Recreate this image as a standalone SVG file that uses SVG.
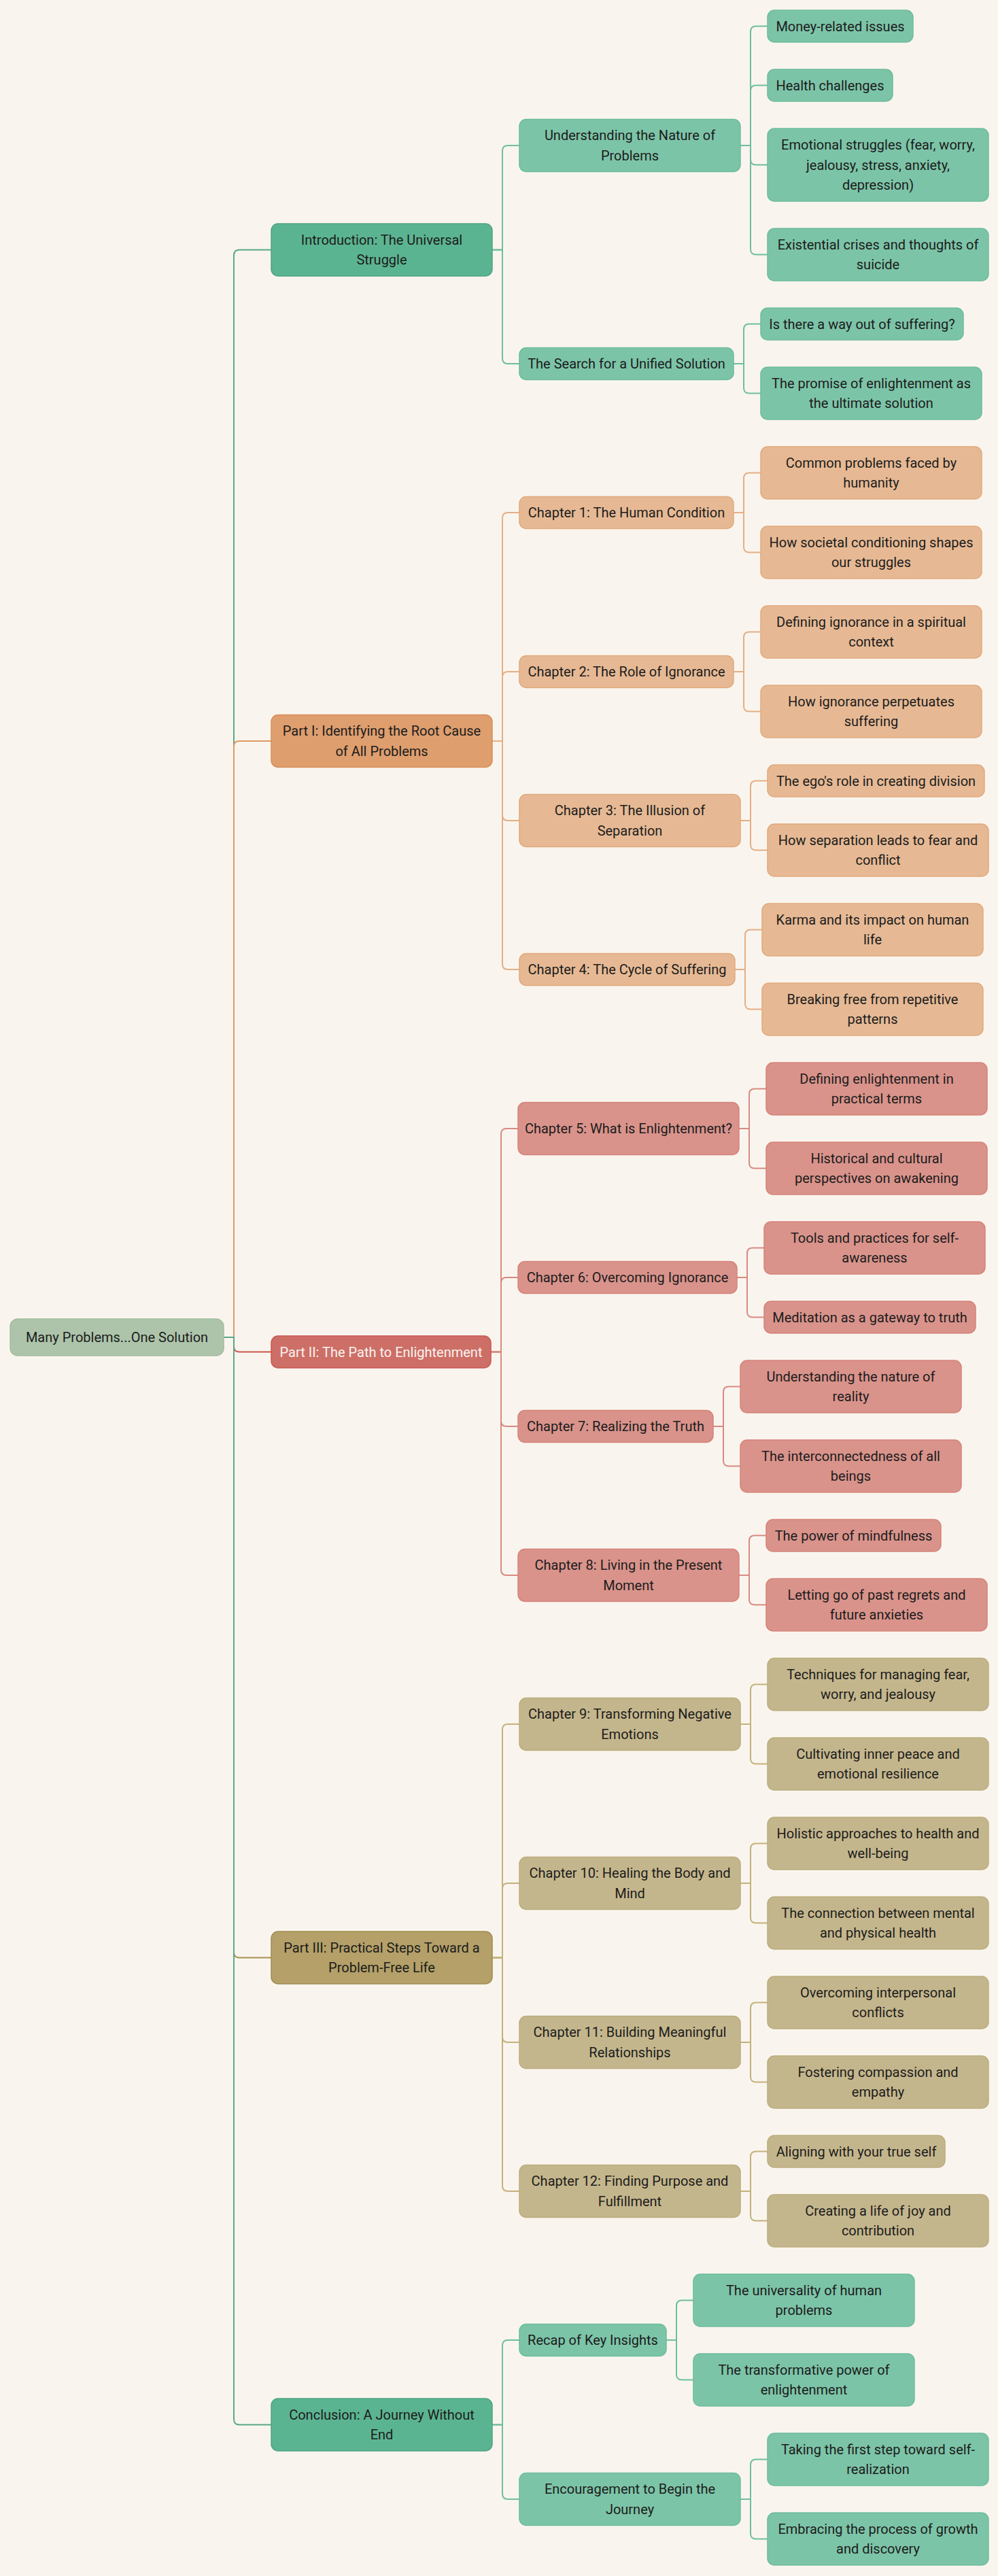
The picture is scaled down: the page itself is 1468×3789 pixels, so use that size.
<svg xmlns="http://www.w3.org/2000/svg" width="1468" height="3789" viewBox="0 0 1468 3789">
<style>
text{font-family:Roboto,"Liberation Sans",sans-serif;font-size:20px;fill:#1c1c1c;text-anchor:middle}
.n rect{stroke-width:1.5}
.root rect{fill:#adc4aa;stroke:#a3bd9f}
.g1 rect{fill:#5bb491;stroke:#4fa383}
.g2 rect{fill:#7cc4a8;stroke:#6dbc9c}
.o1 rect{fill:#de9e6e;stroke:#d98e58}
.o2 rect{fill:#e6b994;stroke:#e2a97c}
.r1 rect{fill:#cd6f67;stroke:#c65a52}
.r1 text{fill:#fbf3f0}
.r2 rect{fill:#d9938b;stroke:#d6827a}
.y1 rect{fill:#b4a068;stroke:#a08c50}
.y2 rect{fill:#c4b68c;stroke:#bcad7e}
.c path{fill:none;stroke-width:2}
.cg1{stroke:#5aa886}.cg2{stroke:#6fbe9e}
.co1{stroke:#df9a63}.co2{stroke:#e5ae85}
.cr1{stroke:#c9564e}.cr2{stroke:#d98a82}
.cy1{stroke:#a8924f}.cy2{stroke:#c4b17c}
</style>
<rect x="0" y="0" width="1468" height="3789" fill="#f9f5ee"/>
<g id="connectors" class="c">
<path class="cg1" d="M329 1967H344V375.5Q344 367.5 352 367.5H399"/>
<path class="co1" d="M329 1967H344V1098Q344 1090 352 1090H399"/>
<path class="cr1" d="M329 1967H344V1980.5Q344 1988.5 352 1988.5H399"/>
<path class="cy1" d="M329 1967H344V2871.5Q344 2879.5 352 2879.5H399"/>
<path class="cg1" d="M329 1967H344V3558.5Q344 3566.5 352 3566.5H399"/>
<path class="cg2" d="M724 367.5H739V222Q739 214 747 214H764"/>
<path class="cg2" d="M724 367.5H739V527Q739 535 747 535H764"/>
<path class="co2" d="M724 1090H739V762Q739 754 747 754H764"/>
<path class="co2" d="M724 1090H739V996Q739 988 747 988H764"/>
<path class="co2" d="M724 1090H739V1199Q739 1207 747 1207H764"/>
<path class="co2" d="M724 1090H739V1418Q739 1426 747 1426H764"/>
<path class="cr2" d="M722 1988.5H737V1668Q737 1660 745 1660H762"/>
<path class="cr2" d="M722 1988.5H737V1887Q737 1879 745 1879H762"/>
<path class="cr2" d="M722 1988.5H737V2090Q737 2098 745 2098H762"/>
<path class="cr2" d="M722 1988.5H737V2309Q737 2317 745 2317H762"/>
<path class="cy2" d="M724 2879.5H739V2544Q739 2536 747 2536H764"/>
<path class="cy2" d="M724 2879.5H739V2778Q739 2770 747 2770H764"/>
<path class="cy2" d="M724 2879.5H739V2996Q739 3004 747 3004H764"/>
<path class="cy2" d="M724 2879.5H739V3215Q739 3223 747 3223H764"/>
<path class="cg2" d="M724 3566.5H739V3450Q739 3442 747 3442H764"/>
<path class="cg2" d="M724 3566.5H739V3668Q739 3676 747 3676H764"/>
<path class="cg2" d="M1089 214H1104V46.5Q1104 38.5 1112 38.5H1129"/>
<path class="cg2" d="M1089 214H1104V133.5Q1104 125.5 1112 125.5H1129"/>
<path class="cg2" d="M1089 214H1104V234.5Q1104 242.5 1112 242.5H1129"/>
<path class="cg2" d="M1089 214H1104V366.5Q1104 374.5 1112 374.5H1129"/>
<path class="cg2" d="M1079 535H1094V484.5Q1094 476.5 1102 476.5H1119"/>
<path class="cg2" d="M1079 535H1094V570.5Q1094 578.5 1102 578.5H1119"/>
<path class="co2" d="M1079 754H1094V703.5Q1094 695.5 1102 695.5H1119"/>
<path class="co2" d="M1079 754H1094V804.5Q1094 812.5 1102 812.5H1119"/>
<path class="co2" d="M1079 988H1094V937.5Q1094 929.5 1102 929.5H1119"/>
<path class="co2" d="M1079 988H1094V1038.5Q1094 1046.5 1102 1046.5H1119"/>
<path class="co2" d="M1089 1207H1104V1156.5Q1104 1148.5 1112 1148.5H1129"/>
<path class="co2" d="M1089 1207H1104V1242.5Q1104 1250.5 1112 1250.5H1129"/>
<path class="co2" d="M1081 1426H1096V1375.5Q1096 1367.5 1104 1367.5H1121"/>
<path class="co2" d="M1081 1426H1096V1476.5Q1096 1484.5 1104 1484.5H1121"/>
<path class="cr2" d="M1087 1660H1102V1609.5Q1102 1601.5 1110 1601.5H1127"/>
<path class="cr2" d="M1087 1660H1102V1710.5Q1102 1718.5 1110 1718.5H1127"/>
<path class="cr2" d="M1084 1879H1099V1843.5Q1099 1835.5 1107 1835.5H1124"/>
<path class="cr2" d="M1084 1879H1099V1929.5Q1099 1937.5 1107 1937.5H1124"/>
<path class="cr2" d="M1049 2098H1064V2047.5Q1064 2039.5 1072 2039.5H1089"/>
<path class="cr2" d="M1049 2098H1064V2148.5Q1064 2156.5 1072 2156.5H1089"/>
<path class="cr2" d="M1087 2317H1102V2266.5Q1102 2258.5 1110 2258.5H1127"/>
<path class="cr2" d="M1087 2317H1102V2352.5Q1102 2360.5 1110 2360.5H1127"/>
<path class="cy2" d="M1089 2536H1104V2485.5Q1104 2477.5 1112 2477.5H1129"/>
<path class="cy2" d="M1089 2536H1104V2586.5Q1104 2594.5 1112 2594.5H1129"/>
<path class="cy2" d="M1089 2770H1104V2719.5Q1104 2711.5 1112 2711.5H1129"/>
<path class="cy2" d="M1089 2770H1104V2820.5Q1104 2828.5 1112 2828.5H1129"/>
<path class="cy2" d="M1089 3004H1104V2953.5Q1104 2945.5 1112 2945.5H1129"/>
<path class="cy2" d="M1089 3004H1104V3054.5Q1104 3062.5 1112 3062.5H1129"/>
<path class="cy2" d="M1089 3223H1104V3172.5Q1104 3164.5 1112 3164.5H1129"/>
<path class="cy2" d="M1089 3223H1104V3258.5Q1104 3266.5 1112 3266.5H1129"/>
<path class="cg2" d="M980 3442H995V3391.5Q995 3383.5 1003 3383.5H1020"/>
<path class="cg2" d="M980 3442H995V3492.5Q995 3500.5 1003 3500.5H1020"/>
<path class="cg2" d="M1089 3676H1104V3625.5Q1104 3617.5 1112 3617.5H1129"/>
<path class="cg2" d="M1089 3676H1104V3726.5Q1104 3734.5 1112 3734.5H1129"/>
</g>
<g id="root" class="n root"><rect x="15" y="1940" width="314" height="54" rx="11"/><text x="172" y="1974">Many Problems...One Solution</text></g>
<g id="intro" class="n g1"><rect x="399" y="329" width="325" height="77" rx="10"/><text x="561.5" y="359.75">Introduction: The Universal<tspan x="561.5" y="389.25">Struggle</tspan></text></g>
<g id="part1" class="n o1"><rect x="399" y="1051.5" width="325" height="77" rx="10"/><text x="561.5" y="1082.25">Part I: Identifying the Root Cause<tspan x="561.5" y="1111.75">of All Problems</tspan></text></g>
<g id="part2" class="n r1"><rect x="399" y="1965" width="323" height="47" rx="10"/><text x="560.5" y="1995.5">Part II: The Path to Enlightenment</text></g>
<g id="part3" class="n y1"><rect x="399" y="2841" width="325" height="77" rx="10"/><text x="561.5" y="2871.75">Part III: Practical Steps Toward a<tspan x="561.5" y="2901.25">Problem-Free Life</tspan></text></g>
<g id="conclusion" class="n g1"><rect x="399" y="3528" width="325" height="77" rx="10"/><text x="561.5" y="3558.75">Conclusion: A Journey Without<tspan x="561.5" y="3588.25">End</tspan></text></g>
<g id="understanding" class="n g2"><rect x="764" y="175.5" width="325" height="77" rx="10"/><text x="926.5" y="206.25">Understanding the Nature of<tspan x="926.5" y="235.75">Problems</tspan></text></g>
<g id="search" class="n g2"><rect x="764" y="511.5" width="315" height="47" rx="10"/><text x="921.5" y="542">The Search for a Unified Solution</text></g>
<g id="ch1" class="n o2"><rect x="764" y="730.5" width="315" height="47" rx="10"/><text x="921.5" y="761">Chapter 1: The Human Condition</text></g>
<g id="ch2" class="n o2"><rect x="764" y="964.5" width="315" height="47" rx="10"/><text x="921.5" y="995">Chapter 2: The Role of Ignorance</text></g>
<g id="ch3" class="n o2"><rect x="764" y="1168.5" width="325" height="77" rx="10"/><text x="926.5" y="1199.25">Chapter 3: The Illusion of<tspan x="926.5" y="1228.75">Separation</tspan></text></g>
<g id="ch4" class="n o2"><rect x="764" y="1402.5" width="317" height="47" rx="10"/><text x="922.5" y="1433">Chapter 4: The Cycle of Suffering</text></g>
<g id="ch5" class="n r2"><rect x="762" y="1621.5" width="325" height="77" rx="10"/><text x="924.5" y="1667">Chapter 5: What is Enlightenment?</text></g>
<g id="ch6" class="n r2"><rect x="762" y="1855.5" width="322" height="47" rx="10"/><text x="923" y="1886">Chapter 6: Overcoming Ignorance</text></g>
<g id="ch7" class="n r2"><rect x="762" y="2074.5" width="287" height="47" rx="10"/><text x="905.5" y="2105">Chapter 7: Realizing the Truth</text></g>
<g id="ch8" class="n r2"><rect x="762" y="2278.5" width="325" height="77" rx="10"/><text x="924.5" y="2309.25">Chapter 8: Living in the Present<tspan x="924.5" y="2338.75">Moment</tspan></text></g>
<g id="ch9" class="n y2"><rect x="764" y="2497.5" width="325" height="77" rx="10"/><text x="926.5" y="2528.25">Chapter 9: Transforming Negative<tspan x="926.5" y="2557.75">Emotions</tspan></text></g>
<g id="ch10" class="n y2"><rect x="764" y="2731.5" width="325" height="77" rx="10"/><text x="926.5" y="2762.25">Chapter 10: Healing the Body and<tspan x="926.5" y="2791.75">Mind</tspan></text></g>
<g id="ch11" class="n y2"><rect x="764" y="2965.5" width="325" height="77" rx="10"/><text x="926.5" y="2996.25">Chapter 11: Building Meaningful<tspan x="926.5" y="3025.75">Relationships</tspan></text></g>
<g id="ch12" class="n y2"><rect x="764" y="3184.5" width="325" height="77" rx="10"/><text x="926.5" y="3215.25">Chapter 12: Finding Purpose and<tspan x="926.5" y="3244.75">Fulfillment</tspan></text></g>
<g id="recap" class="n g2"><rect x="764" y="3418.5" width="216" height="47" rx="10"/><text x="872" y="3449">Recap of Key Insights</text></g>
<g id="encourage" class="n g2"><rect x="764" y="3637.5" width="325" height="77" rx="10"/><text x="926.5" y="3668.25">Encouragement to Begin the<tspan x="926.5" y="3697.75">Journey</tspan></text></g>
<g id="money" class="n g2"><rect x="1129" y="15" width="214" height="47" rx="10"/><text x="1236" y="45.5">Money-related issues</text></g>
<g id="health" class="n g2"><rect x="1129" y="102" width="184" height="47" rx="10"/><text x="1221" y="132.5">Health challenges</text></g>
<g id="emotional" class="n g2"><rect x="1129" y="189" width="325" height="107" rx="10"/><text x="1291.5" y="220">Emotional struggles (fear, worry,<tspan x="1291.5" y="249.5">jealousy, stress, anxiety,</tspan><tspan x="1291.5" y="279">depression)</tspan></text></g>
<g id="existential" class="n g2"><rect x="1129" y="336" width="325" height="77" rx="10"/><text x="1291.5" y="366.75">Existential crises and thoughts of<tspan x="1291.5" y="396.25">suicide</tspan></text></g>
<g id="isthere" class="n g2"><rect x="1119" y="453" width="298" height="47" rx="10"/><text x="1268" y="483.5">Is there a way out of suffering?</text></g>
<g id="promise" class="n g2"><rect x="1119" y="540" width="325" height="77" rx="10"/><text x="1281.5" y="570.75">The promise of enlightenment as<tspan x="1281.5" y="600.25">the ultimate solution</tspan></text></g>
<g id="common" class="n o2"><rect x="1119" y="657" width="325" height="77" rx="10"/><text x="1281.5" y="687.75">Common problems faced by<tspan x="1281.5" y="717.25">humanity</tspan></text></g>
<g id="societal" class="n o2"><rect x="1119" y="774" width="325" height="77" rx="10"/><text x="1281.5" y="804.75">How societal conditioning shapes<tspan x="1281.5" y="834.25">our struggles</tspan></text></g>
<g id="defignorance" class="n o2"><rect x="1119" y="891" width="325" height="77" rx="10"/><text x="1281.5" y="921.75">Defining ignorance in a spiritual<tspan x="1281.5" y="951.25">context</tspan></text></g>
<g id="perpetuates" class="n o2"><rect x="1119" y="1008" width="325" height="77" rx="10"/><text x="1281.5" y="1038.75">How ignorance perpetuates<tspan x="1281.5" y="1068.25">suffering</tspan></text></g>
<g id="ego" class="n o2"><rect x="1129" y="1125" width="319" height="47" rx="10"/><text x="1288.5" y="1155.5">The ego's role in creating division</text></g>
<g id="separation" class="n o2"><rect x="1129" y="1212" width="325" height="77" rx="10"/><text x="1291.5" y="1242.75">How separation leads to fear and<tspan x="1291.5" y="1272.25">conflict</tspan></text></g>
<g id="karma" class="n o2"><rect x="1121" y="1329" width="325" height="77" rx="10"/><text x="1283.5" y="1359.75">Karma and its impact on human<tspan x="1283.5" y="1389.25">life</tspan></text></g>
<g id="breaking" class="n o2"><rect x="1121" y="1446" width="325" height="77" rx="10"/><text x="1283.5" y="1476.75">Breaking free from repetitive<tspan x="1283.5" y="1506.25">patterns</tspan></text></g>
<g id="defenlight" class="n r2"><rect x="1127" y="1563" width="325" height="77" rx="10"/><text x="1289.5" y="1593.75">Defining enlightenment in<tspan x="1289.5" y="1623.25">practical terms</tspan></text></g>
<g id="historical" class="n r2"><rect x="1127" y="1680" width="325" height="77" rx="10"/><text x="1289.5" y="1710.75">Historical and cultural<tspan x="1289.5" y="1740.25">perspectives on awakening</tspan></text></g>
<g id="tools" class="n r2"><rect x="1124" y="1797" width="325" height="77" rx="10"/><text x="1286.5" y="1827.75">Tools and practices for self-<tspan x="1286.5" y="1857.25">awareness</tspan></text></g>
<g id="meditation" class="n r2"><rect x="1124" y="1914" width="311" height="47" rx="10"/><text x="1279.5" y="1944.5">Meditation as a gateway to truth</text></g>
<g id="reality" class="n r2"><rect x="1089" y="2001" width="325" height="77" rx="10"/><text x="1251.5" y="2031.75">Understanding the nature of<tspan x="1251.5" y="2061.25">reality</tspan></text></g>
<g id="interconnected" class="n r2"><rect x="1089" y="2118" width="325" height="77" rx="10"/><text x="1251.5" y="2148.75">The interconnectedness of all<tspan x="1251.5" y="2178.25">beings</tspan></text></g>
<g id="mindfulness" class="n r2"><rect x="1127" y="2235" width="257" height="47" rx="10"/><text x="1255.5" y="2265.5">The power of mindfulness</text></g>
<g id="lettinggo" class="n r2"><rect x="1127" y="2322" width="325" height="77" rx="10"/><text x="1289.5" y="2352.75">Letting go of past regrets and<tspan x="1289.5" y="2382.25">future anxieties</tspan></text></g>
<g id="techniques" class="n y2"><rect x="1129" y="2439" width="325" height="77" rx="10"/><text x="1291.5" y="2469.75">Techniques for managing fear,<tspan x="1291.5" y="2499.25">worry, and jealousy</tspan></text></g>
<g id="cultivating" class="n y2"><rect x="1129" y="2556" width="325" height="77" rx="10"/><text x="1291.5" y="2586.75">Cultivating inner peace and<tspan x="1291.5" y="2616.25">emotional resilience</tspan></text></g>
<g id="holistic" class="n y2"><rect x="1129" y="2673" width="325" height="77" rx="10"/><text x="1291.5" y="2703.75">Holistic approaches to health and<tspan x="1291.5" y="2733.25">well-being</tspan></text></g>
<g id="connection" class="n y2"><rect x="1129" y="2790" width="325" height="77" rx="10"/><text x="1291.5" y="2820.75">The connection between mental<tspan x="1291.5" y="2850.25">and physical health</tspan></text></g>
<g id="overcoming" class="n y2"><rect x="1129" y="2907" width="325" height="77" rx="10"/><text x="1291.5" y="2937.75">Overcoming interpersonal<tspan x="1291.5" y="2967.25">conflicts</tspan></text></g>
<g id="fostering" class="n y2"><rect x="1129" y="3024" width="325" height="77" rx="10"/><text x="1291.5" y="3054.75">Fostering compassion and<tspan x="1291.5" y="3084.25">empathy</tspan></text></g>
<g id="aligning" class="n y2"><rect x="1129" y="3141" width="261" height="47" rx="10"/><text x="1259.5" y="3171.5">Aligning with your true self</text></g>
<g id="creating" class="n y2"><rect x="1129" y="3228" width="325" height="77" rx="10"/><text x="1291.5" y="3258.75">Creating a life of joy and<tspan x="1291.5" y="3288.25">contribution</tspan></text></g>
<g id="universality" class="n g2"><rect x="1020" y="3345" width="325" height="77" rx="10"/><text x="1182.5" y="3375.75">The universality of human<tspan x="1182.5" y="3405.25">problems</tspan></text></g>
<g id="transformative" class="n g2"><rect x="1020" y="3462" width="325" height="77" rx="10"/><text x="1182.5" y="3492.75">The transformative power of<tspan x="1182.5" y="3522.25">enlightenment</tspan></text></g>
<g id="taking" class="n g2"><rect x="1129" y="3579" width="325" height="77" rx="10"/><text x="1291.5" y="3609.75">Taking the first step toward self-<tspan x="1291.5" y="3639.25">realization</tspan></text></g>
<g id="embracing" class="n g2"><rect x="1129" y="3696" width="325" height="77" rx="10"/><text x="1291.5" y="3726.75">Embracing the process of growth<tspan x="1291.5" y="3756.25">and discovery</tspan></text></g>
</svg>
